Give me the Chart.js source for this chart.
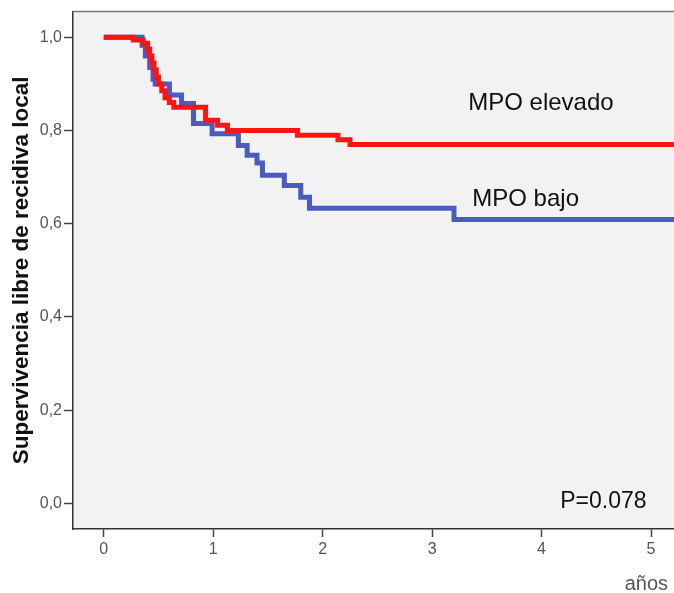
<!DOCTYPE html>
<html>
<head>
<meta charset="utf-8">
<title>Supervivencia libre de recidiva local según MPO</title>
<script src="https://cdn.jsdelivr.net/npm/chart.js@4/dist/chart.umd.min.js"></script>
<style>
  html, body { margin: 0; padding: 0; background: #ffffff; }
  #wrap { width: 674px; height: 593px; }
</style>
</head>
<body>
<div id="wrap"><canvas id="km" width="674" height="593"></canvas></div>
<script>
// Kaplan–Meier estimates: event times (years) and survival after each event
const elevadoTimes = [0, 0.27, 0.36, 0.40, 0.42, 0.44, 0.46, 0.48, 0.50, 0.53, 0.56, 0.60, 0.64, 0.93, 1.04, 1.13, 1.77, 2.14, 2.25, 5.4];
const elevadoSurv  = [1.0, 0.994, 0.987, 0.975, 0.96, 0.945, 0.93, 0.915, 0.90, 0.885, 0.87, 0.86, 0.85, 0.822, 0.811, 0.80, 0.79, 0.78, 0.77, 0.77];

const bajoTimes = [0, 0.35, 0.38, 0.42, 0.45, 0.47, 0.60, 0.71, 0.82, 0.99, 1.23, 1.31, 1.40, 1.45, 1.65, 1.80, 1.88, 3.20, 5.4];
const bajoSurv  = [1.0, 0.983, 0.96, 0.935, 0.91, 0.90, 0.876, 0.858, 0.815, 0.793, 0.768, 0.747, 0.73, 0.704, 0.682, 0.657, 0.633, 0.609, 0.609];

const seriesNames = ['MPO elevado', 'MPO bajo'];
const xTicks = [0, 1, 2, 3, 4, 5];
const yTicks = [0, 0.2, 0.4, 0.6, 0.8, 1.0];
const pValueText = 'P=0.078';
const xTitle = 'años';
const yTitle = 'Supervivencia libre de recidiva local';

const toPoints = (ts, ss) => ts.map((t, i) => ({ x: t, y: ss[i] }));

// In-plot labels, anchored in data units
const notes = [
  { text: seriesNames[0], x: 3.33, y: 0.843 },
  { text: seriesNames[1], x: 3.367, y: 0.637 },
  { text: pValueText, x: 4.171, y: -0.010 }
];

const FONT = '"Liberation Sans", Arial, Helvetica, sans-serif';

const frame = {
  id: 'frame',
  beforeDraw(chart) {
    const { ctx, chartArea: a } = chart;
    ctx.save();
    ctx.fillStyle = '#f2f2f2';
    ctx.fillRect(a.left, a.top, a.right - a.left, a.bottom - a.top);
    ctx.restore();
  },
  afterDraw(chart) {
    const { ctx, chartArea: a, scales } = chart;
    ctx.save();
    // top frame line
    ctx.strokeStyle = '#7a7a7a';
    ctx.lineWidth = 1.5;
    ctx.beginPath();
    ctx.moveTo(a.left, a.top);
    ctx.lineTo(a.right, a.top);
    ctx.stroke();
    // annotations
    ctx.fillStyle = '#111111';
    ctx.textAlign = 'left';
    ctx.textBaseline = 'alphabetic';
    notes.forEach(n => {
      ctx.font = (n.text === pValueText ? '23px ' : '24px ') + FONT;
      ctx.fillText(n.text, scales.x.getPixelForValue(n.x), scales.y.getPixelForValue(n.y));
    });
    // x-axis caption at the lower right
    ctx.fillStyle = '#555555';
    ctx.font = '20px ' + FONT;
    ctx.textAlign = 'right';
    ctx.fillText(xTitle, chart.width - 6, chart.height - 3);
    ctx.restore();
  }
};

new Chart(document.getElementById('km'), {
  type: 'line',
  data: {
    datasets: [
      {
        label: seriesNames[0],
        data: toPoints(elevadoTimes, elevadoSurv),
        borderColor: '#ff1414',
        borderWidth: 5,
        stepped: 'before',
        pointRadius: 0,
        fill: false
      },
      {
        label: seriesNames[1],
        data: toPoints(bajoTimes, bajoSurv),
        borderColor: '#4a5cbf',
        borderWidth: 5,
        stepped: 'before',
        pointRadius: 0,
        fill: false
      }
    ]
  },
  options: {
    responsive: false,
    animation: false,
    devicePixelRatio: 1,
    layout: { padding: { top: 11, left: 0, right: 0, bottom: 0 } },
    plugins: {
      legend: { display: false },
      tooltip: { enabled: false },
      title: { display: false }
    },
    scales: {
      x: {
        type: 'linear',
        min: -0.281,
        max: 5.21,
        afterBuildTicks: s => { s.ticks = xTicks.map(v => ({ value: v })); },
        afterFit: s => { s.height = 64; },
        ticks: {
          color: '#555555',
          font: { family: FONT, size: 16 },
          padding: 3,
          maxRotation: 0,
          autoSkip: false,
          callback: v => String(v)
        },
        grid: { drawOnChartArea: false, drawTicks: true, tickLength: 8, color: '#444444', tickWidth: 1.5 },
        border: { display: true, color: '#333333', width: 1.5 }
      },
      y: {
        type: 'linear',
        min: -0.0551,
        max: 1.0551,
        afterBuildTicks: s => { s.ticks = yTicks.map(v => ({ value: v })); },
        afterFit: s => { s.width = 73; },
        ticks: {
          color: '#555555',
          font: { family: FONT, size: 16 },
          padding: 2,
          autoSkip: false,
          callback: v => v.toFixed(1).replace('.', ',')
        },
        grid: { drawOnChartArea: false, drawTicks: true, tickLength: 9, color: '#444444', tickWidth: 1.5 },
        border: { display: true, color: '#333333', width: 1.5 },
        title: {
          display: true,
          text: yTitle,
          color: '#111111',
          font: { family: FONT, size: 22.5, weight: 'bold' },
          padding: { top: 8, bottom: 0 }
        }
      }
    }
  },
  plugins: [frame]
});
</script>
</body>
</html>
